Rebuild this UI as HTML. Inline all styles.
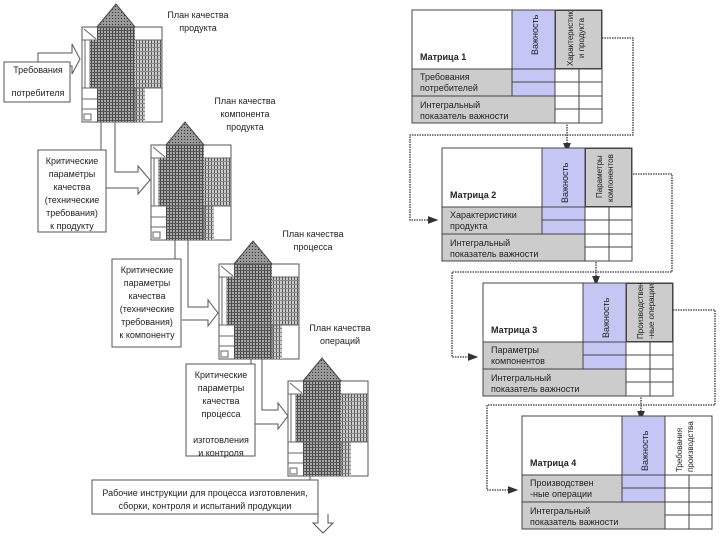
<!DOCTYPE html>
<html><head><meta charset="utf-8"><style>
html,body{margin:0;padding:0;background:#fff;}
svg{display:block;}
text{font-family:"Liberation Sans",sans-serif;fill:#222;}
</style></head><body>
<svg width="720" height="540" viewBox="0 0 720 540" xmlns="http://www.w3.org/2000/svg">
<defs>
<pattern id="grid" width="3" height="3" patternUnits="userSpaceOnUse">
<rect width="3" height="3" fill="#aaa"/><rect width="1" height="3" fill="#444"/><rect width="3" height="1" fill="#555"/>
</pattern>
<pattern id="vl" width="3" height="4" patternUnits="userSpaceOnUse">
<rect width="3" height="4" fill="#ccc"/><rect width="1" height="4" fill="#555"/><rect width="3" height="1" fill="#888"/>
</pattern>
<pattern id="roof" width="3" height="3" patternUnits="userSpaceOnUse">
<rect width="3" height="3" fill="#999"/><rect width="1" height="1" fill="#333"/>
</pattern>
<g id="house">
<rect x="0" y="0" width="80" height="95" fill="#fff" stroke="#555" stroke-width="1"/>
<polygon points="15,0 34,-23 53,0" fill="url(#roof)" stroke="#444"/>
<line x1="0" y1="13" x2="80" y2="13" stroke="#666"/>
<line x1="2" y1="2" x2="14" y2="12" stroke="#666"/>
<rect x="8" y="13" width="72" height="48" fill="url(#vl)" stroke="#666"/>
<rect x="15" y="0" width="38" height="95" fill="url(#grid)"/>
<rect x="8" y="13" width="45" height="48" fill="url(#grid)"/>
<rect x="53" y="61" width="10" height="34" fill="url(#vl)"/>
<line x1="3" y1="13" x2="3" y2="61" stroke="#666"/>
<line x1="0" y1="61" x2="80" y2="61" stroke="#666"/>
<line x1="0" y1="72" x2="15" y2="72" stroke="#666"/>
<line x1="0" y1="82" x2="15" y2="82" stroke="#666"/>
<line x1="53" y1="61" x2="53" y2="95" stroke="#666"/>
<rect x="2" y="87" width="7" height="6" fill="none" stroke="#666"/>
</g>
<marker id="ah" markerWidth="8" markerHeight="8" refX="7" refY="4" orient="auto"><path d="M0,1 L8,4 L0,7 Z" fill="#333"/></marker>
<g id="mtx">
<rect width="190" height="113" fill="#fff"/>
<rect x="0" y="59" width="100" height="54" fill="#ccc"/>
<rect x="100" y="86" width="43" height="27" fill="#ccc"/>
<rect x="100" y="0" width="43" height="86" fill="#c6c6f4"/>
<g stroke="#444" fill="none">
<rect width="190" height="113"/><line x1="0" y1="59" x2="190" y2="59"/><line x1="0" y1="86" x2="190" y2="86"/>
<line x1="100" y1="72" x2="190" y2="72"/><line x1="143" y1="99" x2="190" y2="99"/>
<line x1="100" y1="0" x2="100" y2="86"/><line x1="143" y1="0" x2="143" y2="113"/><line x1="167" y1="59" x2="167" y2="113"/>
</g>
</g>
</defs>

<use href="#house" x="82" y="27"/>
<use href="#house" x="151" y="145"/>
<use href="#house" x="219" y="264"/>
<use href="#house" x="288" y="381"/>

<g fill="none" stroke="#555" stroke-width="1">
<rect x="4" y="62" width="66" height="40" fill="#fff"/>
<polyline points="38,62 38,53 72,53 72,44 80,59 72,74 72,66 70,66"/>
<line x1="101" y1="122" x2="101" y2="150"/>
<polyline points="115,122 115,172 138,172 138,166 150,180 138,194 138,188 106,188"/>
<rect x="38" y="150" width="68" height="82" fill="#fff"/>
<line x1="175" y1="240" x2="175" y2="259"/>
<polyline points="188,240 188,307 208,307 208,300 218,313 208,326 208,320 182,320"/>
<rect x="112" y="259" width="69" height="88" fill="#fff"/>
<line x1="251" y1="359" x2="251" y2="364"/>
<polyline points="262,359 262,410 278,410 278,403 288,416 278,429 278,424 255,424"/>
<rect x="186" y="364" width="69" height="92" fill="#fff"/>
<line x1="310" y1="476" x2="310" y2="481"/>
<rect x="92" y="480" width="226" height="34" fill="#fff"/>
<polyline points="318,514 318,523 313,523 323,533 333,523 328,523 328,514"/>
</g>

<g font-size="9" text-anchor="middle">
<text x="38" y="73">Требования</text>
<text x="38" y="96">потребителя</text>
<text x="72" y="164">Критические</text>
<text x="72" y="177">параметры</text>
<text x="72" y="190">качества</text>
<text x="72" y="203">(технические</text>
<text x="72" y="216">требования)</text>
<text x="72" y="229">к продукту</text>
<text x="147" y="273">Критические</text>
<text x="147" y="286">параметры</text>
<text x="147" y="299">качества</text>
<text x="147" y="312">(технические</text>
<text x="147" y="325">требования)</text>
<text x="147" y="338">к компоненту</text>
<text x="221" y="378">Критические</text>
<text x="221" y="391">параметры</text>
<text x="221" y="404">качества</text>
<text x="221" y="417">процесса</text>
<text x="221" y="443">изготовления</text>
<text x="221" y="456">и контроля</text>
<text x="205" y="496">Рабочие инструкции для процесса изготовления,</text>
<text x="205" y="509">сборки, контроля и испытаний продукции</text>
<text x="198" y="18">План качества</text>
<text x="198" y="31">продукта</text>
<text x="245" y="104">План качества</text>
<text x="245" y="117">компонента</text>
<text x="245" y="130">продукта</text>
<text x="313" y="237">План качества</text>
<text x="313" y="250">процесса</text>
<text x="340" y="331">План качества</text>
<text x="340" y="344">операций</text>
</g>

<g stroke="#333" stroke-dasharray="1.5,1" fill="none" stroke-width="1.3">
<polyline points="602,38 633,38 633,135 410,135 410,220 437,220" marker-end="url(#ah)"/>
<polyline points="567,112 567,152" marker-end="url(#ah)"/>
<polyline points="633,174 672,174 672,272 452,272 452,357 477,357" marker-end="url(#ah)"/>
<polyline points="596,252 596,285" marker-end="url(#ah)"/>
<polyline points="673,310 715,310 715,405 487,405 487,490 517,490" marker-end="url(#ah)"/>
<polyline points="641,385 641,420" marker-end="url(#ah)"/>
</g>

<g font-size="9">
<g transform="translate(412,10)">
<use href="#mtx"/>
<rect x="143.5" y="0.5" width="46" height="58" fill="#ccc" stroke="#444"/>
<text x="8" y="50" font-weight="bold" font-size="9">Матрица 1</text>
<text x="8" y="70" fill="#555">Требования</text><text x="8" y="81" fill="#555">потребителей</text>
<text x="8" y="98" fill="#555">Интегральный</text><text x="8" y="109" fill="#555">показатель важности</text>
<text transform="translate(126,45) rotate(-90)" font-size="9">Важность</text>
<text transform="translate(161,56) rotate(-90)" font-size="8">Характеристик</text>
<text transform="translate(172,48) rotate(-90)" font-size="8">и продукта</text>
</g>
<g transform="translate(442,148)">
<use href="#mtx"/>
<rect x="143.5" y="0.5" width="46" height="58" fill="#ccc" stroke="#444"/>
<text x="8" y="50" font-weight="bold" font-size="9">Матрица 2</text>
<text x="8" y="70" fill="#555">Характеристики</text><text x="8" y="81" fill="#555">продукта</text>
<text x="8" y="98" fill="#555">Интегральный</text><text x="8" y="109" fill="#555">показатель важности</text>
<text transform="translate(126,55) rotate(-90)" font-size="9">Важность</text>
<text transform="translate(160,50) rotate(-90)" font-size="8">Параметры</text>
<text transform="translate(171,54) rotate(-90)" font-size="8">компонентов</text>
</g>
<g transform="translate(483,283)">
<use href="#mtx"/>
<rect x="143.5" y="0.5" width="46" height="58" fill="#ccc" stroke="#444"/>
<text x="8" y="50" font-weight="bold" font-size="9">Матрица 3</text>
<text x="8" y="70" fill="#555">Параметры</text><text x="8" y="81" fill="#555">компонентов</text>
<text x="8" y="98" fill="#555">Интегральный</text><text x="8" y="109" fill="#555">показатель важности</text>
<text transform="translate(126,55) rotate(-90)" font-size="9">Важность</text>
<text transform="translate(160,56) rotate(-90)" font-size="8">Производствен</text>
<text transform="translate(171,56) rotate(-90)" font-size="8">-ные операции</text>
</g>
<g transform="translate(522,416)">
<use href="#mtx"/>
<text x="8" y="50" font-weight="bold" font-size="9">Матрица 4</text>
<text x="8" y="70" fill="#555">Производствен</text><text x="8" y="81" fill="#555">-ные операции</text>
<text x="8" y="98" fill="#555">Интегральный</text><text x="8" y="109" fill="#555">показатель важности</text>
<text transform="translate(126,55) rotate(-90)" font-size="9">Важность</text>
<text transform="translate(160,56) rotate(-90)" font-size="8">Требования</text>
<text transform="translate(171,56) rotate(-90)" font-size="8">производства</text>
</g>
</g>
</svg>
</body></html>
